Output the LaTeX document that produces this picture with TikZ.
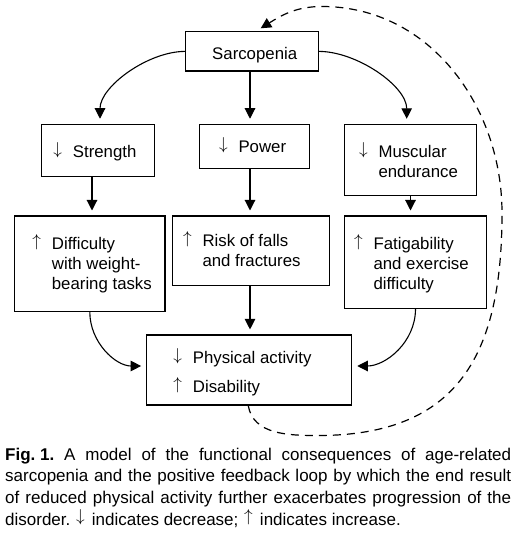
\documentclass[tikz,border=0pt]{standalone}
\usepackage{fontspec}
\setmainfont{Liberation Sans}
\usetikzlibrary{arrows.meta}
\frenchspacing
\newcommand{\uparg}{\raisebox{0.19em}{$\uparrow$}}
\newcommand{\dnarg}{\raisebox{0.19em}{$\downarrow$}}
\newcommand{\upar}{\llap{\makebox[19.5bp][l]{\uparg}}}
\newcommand{\dnar}{\llap{\makebox[19.5bp][l]{\dnarg}}}
\tikzset{
  box/.style={draw, line width=1.1bp, inner sep=0pt},
  txt/.style={inner sep=0pt, anchor=base west, font=\fontsize{16.8bp}{20bp}\selectfont},
  arr/.style={line width=1.1bp, -{Triangle[length=10.5bp,width=10.5bp]}, shorten >=5bp},
  loopline/.style={line width=1.2bp, dash pattern=on 8bp off 6bp, -{Triangle[length=10.5bp,width=10.5bp]}},
}
\begin{document}
\begin{tikzpicture}[x=1bp,y=1bp]
\useasboundingbox (0,0) rectangle (520,-537);
% boxes
\node[box, minimum width=132.6bp, minimum height=39.3bp] (sarc) at (252,-51.4) {};
\node[box, minimum width=113.3bp, minimum height=52.4bp] (str) at (97.7,-150.5) {};
\node[box, minimum width=110bp, minimum height=44bp] (pow) at (254.3,-146.3) {};
\node[box, minimum width=132.4bp, minimum height=70.7bp] (mus) at (410.5,-159.7) {};
\node[box, minimum width=150.3bp, minimum height=95.3bp] (dif) at (89.8,-263.7) {};
\node[box, minimum width=156.6bp, minimum height=69.3bp] (risk) at (251,-250.7) {};
\node[box, minimum width=142.4bp, minimum height=92.3bp] (fat) at (415.5,-262.2) {};
\node[box, minimum width=205bp, minimum height=70bp] (pa) at (249.2,-370) {};
% texts
\node[txt] (tsarc) at (212,-59.3) {Sarcopenia};
\node[txt] (tstr) at (72.7,-157.3) {\dnar Strength};
\node[txt] (tpow) at (238.3,-152.7) {\dnar Power};
\node[txt] (tmus) at (378.3,-157.3) {\begin{tabular}[t]{@{}l@{}}\dnar Muscular\\endurance\end{tabular}};
\node[txt] (tdif) at (51.7,-249.3) {\begin{tabular}[t]{@{}l@{}}\upar Difficulty\\with weight-\\bearing tasks\end{tabular}};
\node[txt] (trisk) at (202.3,-246.7) {\begin{tabular}[t]{@{}l@{}}\upar Risk of falls\\and fractures\end{tabular}};
\node[txt] (tfat) at (373.3,-249.3) {\begin{tabular}[t]{@{}l@{}}\upar Fatigability\\and exercise\\difficulty\end{tabular}};
\node[txt] (tpa) at (192.7,-363.3) {\begin{tabular}[t]{@{}l@{}}\dnar Physical activity\\[8.4bp]\upar Disability\end{tabular}};
% connectors
\coordinate (mid) at (250,0);
\draw[arr] (sarc.west) to[out=180,in=90,looseness=0.85] ([xshift=2.3bp]str.north);
\draw[arr] (sarc.east) to[out=0,in=90,looseness=0.85] ([xshift=-3.8bp]mus.north);
\draw[arr] (sarc.south -| mid) -- (pow.north -| mid);
\draw[arr] ([xshift=-5.7bp]str.south) -- ([xshift=-5.7bp]str.south |- dif.north);
\draw[arr] (pow.south -| mid) -- (risk.north -| mid);
\draw[arr] (mus.south) -- (mus.south |- fat.north);
\draw[arr] (risk.south -| mid) -- (pa.north -| mid);
\draw[arr] (dif.south) to[out=-90,in=180] ([yshift=4bp]pa.west);
\draw[arr] (fat.south) to[out=-90,in=0] ([yshift=4bp]pa.east);
\coordinate (lb) at (318,-435.5);
\coordinate (lr) at (502,-213);
\coordinate (lt) at (322,-6.5);
\coordinate (lend) at (260.7,-28.3);
\draw[loopline] ([xshift=-1bp]pa.south) to[out=-80,in=180] (lb) to[out=0,in=-90,looseness=1.25] (lr) to[out=90,in=0] (lt) to[out=180,in=32] (lend);
% caption
\node[inner sep=0pt, anchor=base west, text width=506bp, align=justify,
      font=\fontsize{17bp}{21.7bp}\selectfont] (cap) at (5,-460)
{\textbf{\mbox{Fig.\ 1.}} A model of the functional consequences of age-related\linebreak
sarcopenia and the positive feedback loop by which the end result\linebreak
of reduced physical activity further exacerbates progression of the\linebreak
disorder.\hspace{1bp} \smash{\dnarg}\hspace{2.5bp} indicates decrease;\hspace{1bp} \smash{\uparg}\hspace{2.5bp} indicates increase.};
\end{tikzpicture}
\end{document}
